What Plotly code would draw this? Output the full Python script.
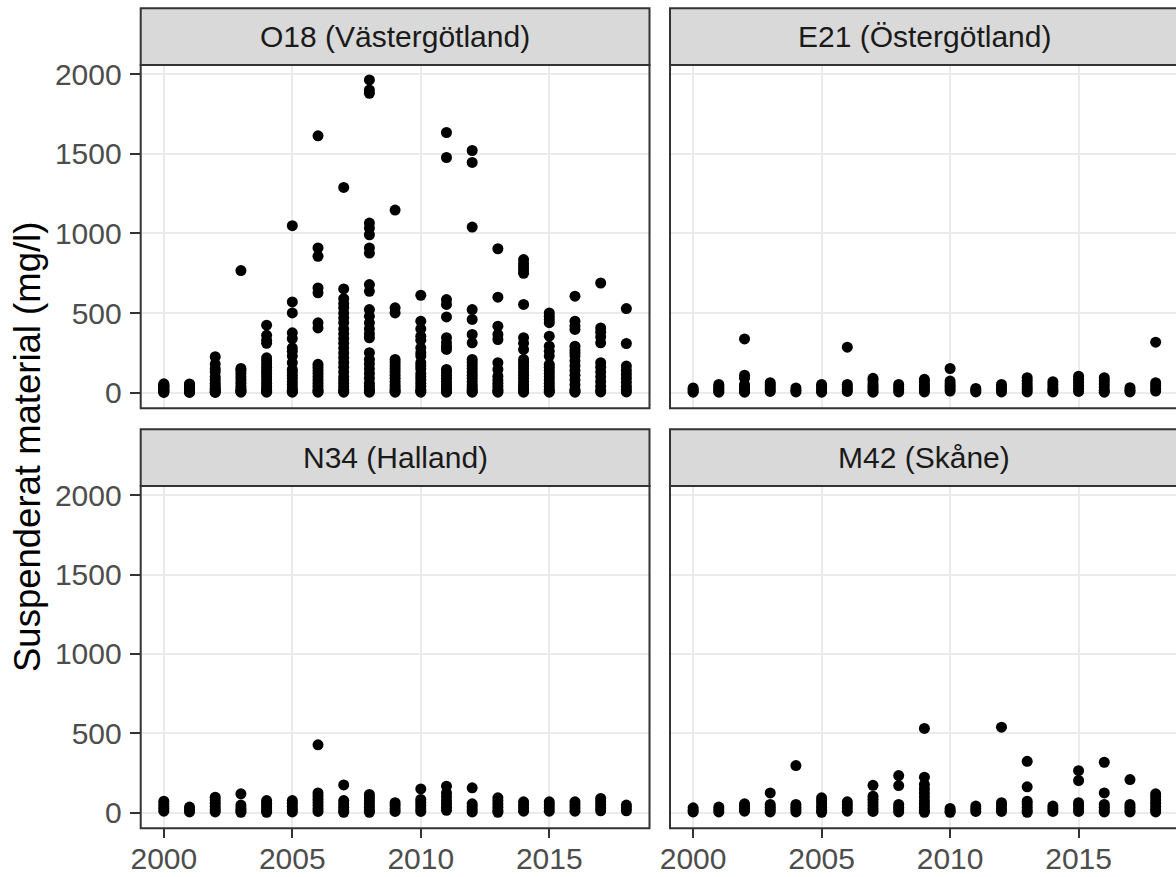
import plotly.graph_objects as go

# ---------------- data ----------------
years = list(range(2000, 2019))
panel_titles = ["O18 (Västergötland)", "E21 (Östergötland)", "N34 (Halland)", "M42 (Skåne)"]
y_title = "Suspenderat material (mg/l)"
y_ticks = [0, 500, 1000, 1500, 2000]
x_ticks = [2000, 2005, 2010, 2015]

# values (mg/l) per year, 2000..2018
o18_values = [
    [2, 5, 10, 15, 20, 25, 30, 35, 40, 45, 50, 56],
    [2, 5, 10, 15, 20, 28, 35, 42, 50, 55],
    [2, 5, 10, 20, 30, 45, 60, 80, 100, 130, 150, 180, 226],
    [3, 8, 15, 25, 40, 60, 80, 100, 120, 140, 152, 767],
    [3, 8, 15, 25, 40, 60, 80, 100, 120, 140, 160, 180, 200, 219, 310, 330, 360, 424],
    [3, 8, 15, 30, 50, 70, 90, 110, 130, 146, 188, 230, 260, 282, 340, 376, 501, 570, 1049],
    [3, 10, 20, 40, 60, 80, 100, 120, 140, 160, 178, 407, 439, 627, 658, 857, 909, 1613],
    [3, 10, 20, 40, 60, 80, 100, 130, 160, 190, 220, 250, 280, 310, 340, 370, 400, 440, 470, 500, 533, 560, 590, 652, 1289],
    [3, 10, 20, 40, 60, 90, 120, 150, 180, 209, 251, 345, 370, 400, 439, 480, 522, 637, 679, 877, 909, 992, 1034, 1065, 1880, 1901, 1964],
    [3, 10, 20, 35, 50, 70, 90, 110, 130, 150, 170, 190, 209, 501, 533, 1147],
    [3, 10, 20, 40, 60, 80, 100, 120, 150, 170, 188, 230, 250, 282, 330, 355, 401, 449, 612],
    [3, 10, 20, 35, 50, 70, 90, 110, 130, 146, 272, 290, 313, 345, 476, 554, 585, 1477, 1634],
    [3, 10, 20, 35, 50, 70, 90, 110, 130, 150, 170, 190, 209, 313, 366, 460, 522, 1040, 1446, 1521],
    [3, 10, 20, 40, 60, 80, 104, 146, 188, 334, 366, 418, 600, 904],
    [3, 10, 20, 35, 50, 70, 90, 110, 130, 150, 170, 190, 209, 272, 310, 345, 554, 750, 770, 790, 810, 836],
    [3, 10, 20, 40, 60, 80, 100, 120, 140, 160, 178, 230, 260, 292, 355, 440, 460, 480, 501],
    [3, 10, 20, 50, 80, 110, 140, 170, 200, 230, 250, 270, 292, 397, 420, 449, 606],
    [5, 15, 40, 70, 100, 130, 160, 188, 313, 350, 380, 407, 689],
    [5, 20, 40, 65, 90, 115, 140, 167, 309, 528],
]

e21_values = [
    [3, 10, 20, 30],
    [3, 10, 20, 30, 40, 52],
    [3, 10, 20, 35, 50, 90, 110, 338],
    [8, 20, 35, 50, 63],
    [5, 15, 30],
    [3, 10, 25, 40, 52],
    [8, 20, 35, 52, 286],
    [3, 10, 25, 40, 55, 75, 90],
    [5, 20, 35, 52],
    [5, 20, 35, 50, 70, 84],
    [10, 25, 40, 55, 73, 152],
    [5, 15, 27],
    [5, 20, 35, 52],
    [5, 20, 35, 55, 75, 94],
    [5, 15, 30, 50, 69],
    [8, 25, 45, 65, 85, 104],
    [3, 15, 35, 55, 75, 94],
    [5, 15, 31],
    [10, 25, 45, 63, 317],
]

n34_values = [
    [10, 25, 40, 55, 73],
    [5, 20, 36],
    [5, 20, 40, 60, 80, 98],
    [3, 15, 30, 48, 119],
    [3, 15, 30, 45, 60, 77],
    [5, 20, 40, 60, 77],
    [8, 25, 45, 65, 85, 105, 125, 428],
    [3, 15, 35, 55, 77, 175],
    [3, 15, 35, 55, 75, 95, 115],
    [8, 25, 45, 63],
    [8, 25, 45, 65, 84, 150],
    [15, 35, 55, 75, 100, 125, 167],
    [5, 20, 40, 56, 157],
    [3, 15, 35, 55, 75, 94],
    [10, 30, 50, 69],
    [10, 30, 50, 69],
    [10, 30, 50, 69],
    [12, 30, 50, 70, 90],
    [12, 30, 48],
]

m42_values = [
    [5, 15, 31],
    [5, 20, 36],
    [10, 25, 40, 56],
    [5, 20, 35, 52, 125],
    [5, 20, 35, 52, 297],
    [3, 15, 35, 55, 75, 94],
    [10, 30, 50, 69],
    [8, 25, 45, 65, 85, 104, 173],
    [5, 20, 35, 52, 171, 234],
    [3, 15, 35, 55, 75, 100, 125, 150, 178, 224, 531],
    [3, 12, 27],
    [8, 25, 42],
    [8, 25, 45, 63, 539],
    [3, 15, 35, 55, 73, 163, 324],
    [8, 25, 42],
    [8, 25, 45, 63, 203, 265],
    [5, 18, 35, 52, 125, 318],
    [5, 18, 35, 52, 209],
    [5, 20, 40, 60, 80, 100, 119],
]

panel_values = [o18_values, e21_values, n34_values, m42_values]

# ---------------- layout geometry (pixels) ----------------
W, H = 1176, 877
FONT = "Liberation Sans, Arial, sans-serif"

def fx(p):
    return p / W

def fy(p):
    return 1 - p / H

col_px = [(140.7, 649.5), (670.0, 1178.8)]
row_px = [(65.0, 408.3), (486.0, 828.3)]
strip_h = 56.7
px_per_year = (col_px[0][1] - col_px[0][0]) / 19.8
x_lo = 1999.1
y_range = [-98, 2058]

fig = go.Figure()
shapes = []
annotations = []

for i, (title, vals) in enumerate(zip(panel_titles, panel_values)):
    r, c = divmod(i, 2)
    n = "" if i == 0 else str(i + 1)
    xs, ys = [], []
    for yr, vs in zip(years, vals):
        xs.extend([yr] * len(vs))
        ys.extend(vs)
    fig.add_trace(go.Scatter(
        x=xs, y=ys, mode="markers",
        marker=dict(color="black", size=11, line=dict(width=0)),
        xaxis="x" + n, yaxis="y" + n, showlegend=False,
        hoverinfo="x+y",
    ))

    x0p, x1p = col_px[c]
    y0p, y1p = row_px[r]
    dom_x1 = min(x1p, W)
    x_hi = x_lo + (dom_x1 - x0p) / px_per_year

    xaxis = dict(
        domain=[fx(x0p), fx(dom_x1)], range=[x_lo, x_hi], automargin=False,
        anchor="y" + n, tickvals=x_ticks, showgrid=True,
        gridcolor="#EBEBEB", gridwidth=2, zeroline=False, showline=False,
        tickfont=dict(family=FONT, size=30, color="#4D4D4D"),
    )
    if r == 1:
        xaxis.update(ticks="outside", ticklen=9, tickwidth=2, tickcolor="#333333",
                     showticklabels=True, ticklabelstandoff=-5)
    else:
        xaxis.update(ticks="", showticklabels=False)

    yaxis = dict(
        domain=[fy(y1p), fy(y0p)], range=y_range, automargin=False,
        anchor="x" + n, tickvals=y_ticks, showgrid=True,
        gridcolor="#EBEBEB", gridwidth=2, zeroline=False, showline=False,
        tickfont=dict(family=FONT, size=30, color="#4D4D4D"),
    )
    if c == 0:
        yaxis.update(ticks="outside", ticklen=10, tickwidth=2, tickcolor="#333333",
                     showticklabels=True, ticklabelstandoff=2)
    else:
        yaxis.update(ticks="", showticklabels=False)

    fig.update_layout(**{"xaxis" + n: xaxis, "yaxis" + n: yaxis})

    # panel border
    shapes.append(dict(type="rect", xref="paper", yref="paper",
                       x0=fx(x0p), x1=fx(x1p), y0=fy(y1p), y1=fy(y0p),
                       line=dict(color="#333333", width=2),
                       fillcolor="rgba(0,0,0,0)", layer="above"))
    # strip
    shapes.append(dict(type="rect", xref="paper", yref="paper",
                       x0=fx(x0p), x1=fx(x1p), y0=fy(y0p), y1=fy(y0p - strip_h),
                       line=dict(color="#333333", width=2),
                       fillcolor="#D9D9D9", layer="above"))
    annotations.append(dict(text=title, xref="paper", yref="paper",
                            x=fx((x0p + x1p) / 2), y=fy(y0p - strip_h / 2),
                            xanchor="center", yanchor="middle", showarrow=False,
                            font=dict(family=FONT, size=30, color="#1A1A1A")))

annotations.append(dict(text=y_title, xref="paper", yref="paper",
                        x=fx(28), y=fy(447), textangle=-90,
                        xanchor="center", yanchor="middle", showarrow=False,
                        font=dict(family=FONT, size=36.5, color="black")))

fig.update_layout(
    width=W, height=H,
    margin=dict(l=0, r=0, t=0, b=0, autoexpand=False),
    paper_bgcolor="white", plot_bgcolor="white",
    shapes=shapes, annotations=annotations,
    font=dict(family=FONT),
)

fig.write_html("out.html")
